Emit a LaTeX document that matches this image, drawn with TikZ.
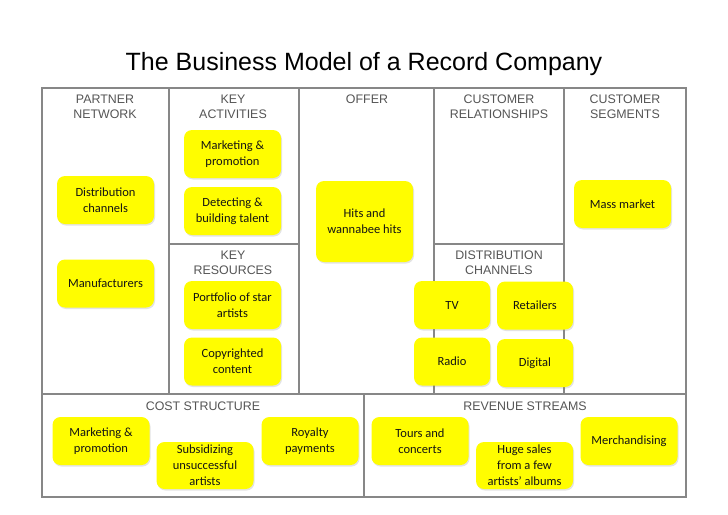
\documentclass[tikz,border=0pt]{standalone}
\usepackage{fontspec}
\setmainfont{Liberation Sans}
\newfontfamily\notefont{Carlito}
\usetikzlibrary{shadows}
\definecolor{notey}{RGB}{255,253,0}
\definecolor{framegray}{RGB}{135,135,135}
\definecolor{headgray}{RGB}{85,85,85}
\tikzset{
  note/.style={draw=none, fill=notey, rounded corners=8pt, inner sep=0pt,
    minimum width=97pt, minimum height=48pt, align=center,
    font=\notefont\fontsize{12.5}{16}\selectfont, text=black!92,
    drop shadow={opacity=0.22, shadow xshift=1pt, shadow yshift=-1.5pt}},
  smallnote/.style={note, minimum width=76pt},
  head/.style={align=center, text=headgray, inner sep=0pt,
    font=\fontsize{12.4}{15}\selectfont},
  frameline/.style={draw=framegray, line width=2pt}
}
\begin{document}
\begin{tikzpicture}[x=1pt,y=-1pt]
\useasboundingbox (0,0) rectangle (728,514);
\fill[white] (0,0) rectangle (728,514);
% title
\node[anchor=base, inner sep=0pt, font=\fontsize{25}{30}\selectfont] (title) at (364,70) {The Business Model of a Record Company};
% frame
\draw[frameline] (42,88) rectangle (686,497);
\draw[frameline] (169,88) -- (169,394);
\draw[frameline] (299,88) -- (299,394);
\draw[frameline] (434,88) -- (434,394);
\draw[frameline] (564,88) -- (564,394);
\draw[frameline] (42,394) -- (686,394);
\draw[frameline] (169,244) -- (299,244);
\draw[frameline] (434,244) -- (564,244);
\draw[frameline] (364,394) -- (364,497);
% headers
\node[head] (hpn) at (105,107) {PARTNER\\NETWORK};
\node[head] (hka) at (233,107) {KEY\\ACTIVITIES};
\node[head] (hof) at (367,99.5) {OFFER};
\node[head] (hcr) at (499,107) {CUSTOMER\\RELATIONSHIPS};
\node[head] (hcs) at (625,107) {CUSTOMER\\SEGMENTS};
\node[head] (hkr) at (233,263) {KEY\\RESOURCES};
\node[head] (hdc) at (499,263) {DISTRIBUTION\\CHANNELS};
\node[head] (hcost) at (203,406.5) {COST STRUCTURE};
\node[head] (hrev) at (525,406.5) {REVENUE STREAMS};
% notes
\node[note] (ka1) at (232.5,154) {Marketing \&\\promotion};
\node[note] (ka2) at (232.5,211) {Detecting \&\\building talent};
\node[note] (pn1) at (105.5,200) {Distribution\\channels};
\node[note] (pn2) at (105.5,283.5) {Manufacturers};
\node[note, minimum height=81pt] (of1) at (364.5,221.5) {Hits and\\wannabee hits};
\node[note] (cs1) at (622.5,204) {Mass market};
\node[note] (kr1) at (232.5,305) {Portfolio of star\\artists};
\node[note] (kr2) at (232.5,361.5) {Copyrighted\\content};
\node[smallnote] (dc1) at (452,305) {TV};
\node[smallnote] (dc2) at (535,305.5) {Retailers};
\node[smallnote] (dc3) at (452,361.5) {Radio};
\node[smallnote] (dc4) at (535,363) {Digital};
\node[note] (co1) at (101,441) {Marketing \&\\promotion};
\node[note, minimum height=47pt] (co2) at (205,465.5) {Subsidizing\\unsuccessful\\artists};
\node[note] (co3) at (310,441) {Royalty\\payments};
\node[note] (rv1) at (420,441) {Tours and\\concerts};
\node[note, minimum height=47pt] (rv2) at (524.5,465.5) {Huge sales\\from a few\\artists’ albums};
\node[note] (rv3) at (629,441) {Merchandising};
\end{tikzpicture}
\end{document}
